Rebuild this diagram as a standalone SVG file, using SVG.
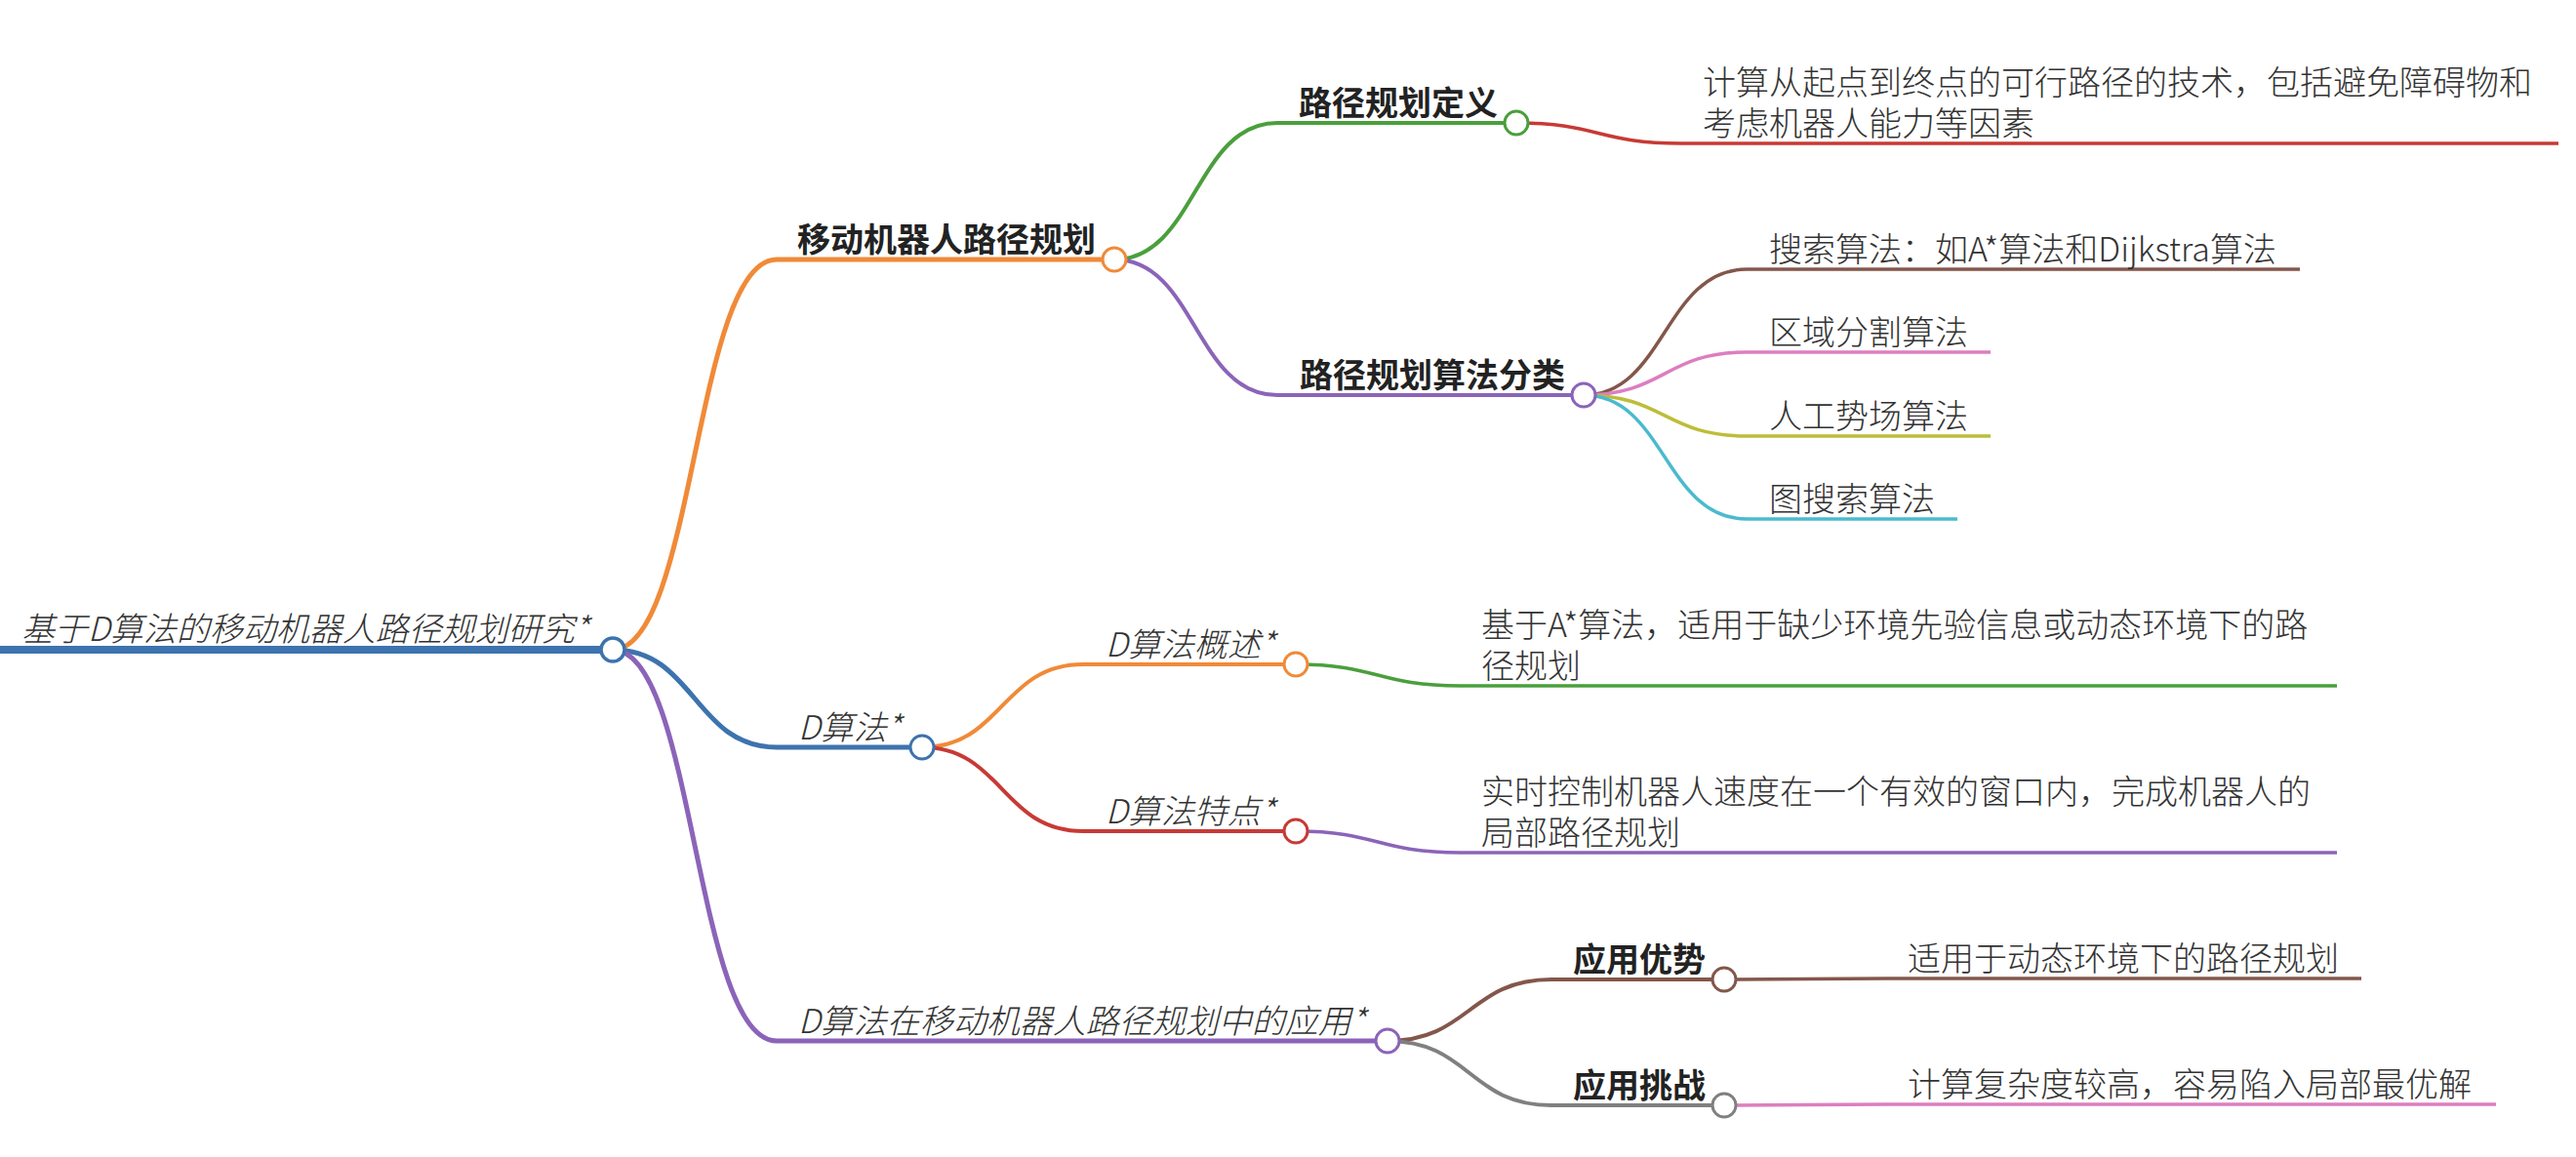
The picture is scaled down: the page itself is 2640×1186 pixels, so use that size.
<svg xmlns="http://www.w3.org/2000/svg" width="2640" height="1186" viewBox="0 0 2640 1186">
<style>
text{font-family:"Noto Sans CJK SC","Noto Sans",sans-serif;font-size:34px;fill:#333;font-weight:300}
.b{font-weight:700;fill:#222}
.i{font-style:italic}
.ln{fill:none;stroke-linecap:butt}
.c{fill:#fff}
.l1{stroke-width:5}
.l2{stroke-width:4}
.l3{stroke-width:3.5}
</style>
<rect width="2640" height="1186" fill="#fff"/>
<g id="connectors" class="ln">
<path class="l1" stroke="#f08a38" d="M628,666 C712,666 712,266 796,266"/>
<path class="l1" stroke="#3d73ae" d="M628,666 C712,666 712,766 796,766"/>
<path class="l1" stroke="#8b64b9" d="M628,666 C712,666 712,1067 796,1067"/>
<path class="l2" stroke="#4a9f3c" d="M1142,266 C1225,266 1225,126 1309,126"/>
<path class="l2" stroke="#8b64b9" d="M1142,266 C1225,266 1225,405 1309,405"/>
<path class="l3" stroke="#c73a35" d="M1554,126 C1638,126 1638,147 1723,147"/>
<path class="l3" stroke="#83574b" d="M1623,405 C1706,405 1706,276 1790,276"/>
<path class="l3" stroke="#dc7ec0" d="M1623,405 C1706,405 1706,361 1790,361"/>
<path class="l3" stroke="#bdbd3a" d="M1623,405 C1706,405 1706,447 1790,447"/>
<path class="l3" stroke="#4bbace" d="M1623,405 C1706,405 1706,532 1790,532"/>
<path class="l2" stroke="#f08a38" d="M945,766 C1027,766 1027,681 1110,681"/>
<path class="l2" stroke="#c73a35" d="M945,766 C1027,766 1027,852 1110,852"/>
<path class="l3" stroke="#4a9f3c" d="M1328,681 C1412,681 1412,703 1496,703"/>
<path class="l3" stroke="#8b64b9" d="M1328,852 C1412,852 1412,874 1496,874"/>
<path class="l2" stroke="#83574b" d="M1422,1067 C1506,1067 1506,1004 1590,1004"/>
<path class="l2" stroke="#808080" d="M1422,1067 C1506,1067 1506,1133 1590,1133"/>
<path class="l3" stroke="#83574b" d="M1767,1004 C1851,1004 1851,1003 1935,1003"/>
<path class="l3" stroke="#dc7ec0" d="M1767,1133 C1851,1133 1851,1132 1935,1132"/>
</g>
<g id="root">
<path class="ln" stroke="#3d73ae" stroke-width="8" d="M0,666 H628"/>
<circle class="c" cx="628" cy="666" r="12" stroke="#3d73ae" stroke-width="3.5"/>
<text class="i" x="22" y="657">基于D算法的移动机器人路径规划研究*</text>
</g>
<g id="n-a">
<path class="ln l1" stroke="#f08a38" d="M796,266 H1142"/>
<circle class="c" cx="1142" cy="266" r="12" stroke="#f08a38" stroke-width="3"/>
<text class="b" x="817" y="258">移动机器人路径规划</text>
</g>
<g id="n-a1">
<path class="ln l2" stroke="#4a9f3c" d="M1309,126 H1554"/>
<circle class="c" cx="1554" cy="126" r="12" stroke="#4a9f3c" stroke-width="3"/>
<text class="b" x="1331" y="118">路径规划定义</text>
</g>
<g id="n-a1-1">
<path class="ln l3" stroke="#c73a35" d="M1723,147 H2622"/>
<text x="1745" y="97">计算从起点到终点的可行路径的技术，包括避免障碍物和<tspan x="1745" dy="42">考虑机器人能力等因素</tspan></text>
</g>
<g id="n-a2">
<path class="ln l2" stroke="#8b64b9" d="M1309,405 H1623"/>
<circle class="c" cx="1623" cy="405" r="12" stroke="#8b64b9" stroke-width="3"/>
<text class="b" x="1332" y="397">路径规划算法分类</text>
</g>
<g id="n-a2-1">
<path class="ln l3" stroke="#83574b" d="M1790,276 H2357"/>
<text x="1813" y="268">搜索算法：如A*算法和Dijkstra算法</text>
</g>
<g id="n-a2-2">
<path class="ln l3" stroke="#dc7ec0" d="M1790,361 H2040"/>
<text x="1813" y="353">区域分割算法</text>
</g>
<g id="n-a2-3">
<path class="ln l3" stroke="#bdbd3a" d="M1790,447 H2040"/>
<text x="1813" y="439">人工势场算法</text>
</g>
<g id="n-a2-4">
<path class="ln l3" stroke="#4bbace" d="M1790,532 H2006"/>
<text x="1813" y="524">图搜索算法</text>
</g>
<g id="n-b">
<path class="ln l1" stroke="#3d73ae" d="M796,766 H945"/>
<circle class="c" cx="945" cy="766" r="12" stroke="#3d73ae" stroke-width="3"/>
<text class="i" x="818" y="758">D算法*</text>
</g>
<g id="n-b1">
<path class="ln l2" stroke="#f08a38" d="M1110,681 H1328"/>
<circle class="c" cx="1328" cy="681" r="12" stroke="#f08a38" stroke-width="3"/>
<text class="i" x="1133" y="673">D算法概述*</text>
</g>
<g id="n-b1-1">
<path class="ln l3" stroke="#4a9f3c" d="M1496,703 H2395"/>
<text x="1518" y="653">基于A*算法，适用于缺少环境先验信息或动态环境下的路<tspan x="1518" dy="42">径规划</tspan></text>
</g>
<g id="n-b2">
<path class="ln l2" stroke="#c73a35" d="M1110,852 H1328"/>
<circle class="c" cx="1328" cy="852" r="12" stroke="#c73a35" stroke-width="3"/>
<text class="i" x="1133" y="844">D算法特点*</text>
</g>
<g id="n-b2-1">
<path class="ln l3" stroke="#8b64b9" d="M1496,874 H2395"/>
<text x="1518" y="824">实时控制机器人速度在一个有效的窗口内，完成机器人的<tspan x="1518" dy="42">局部路径规划</tspan></text>
</g>
<g id="n-c">
<path class="ln l1" stroke="#8b64b9" d="M796,1067 H1422"/>
<circle class="c" cx="1422" cy="1067" r="12" stroke="#8b64b9" stroke-width="3"/>
<text class="i" x="818" y="1059">D算法在移动机器人路径规划中的应用*</text>
</g>
<g id="n-c1">
<path class="ln l2" stroke="#83574b" d="M1590,1004 H1767"/>
<circle class="c" cx="1767" cy="1004" r="12" stroke="#83574b" stroke-width="3"/>
<text class="b" x="1612" y="996">应用优势</text>
</g>
<g id="n-c1-1">
<path class="ln l3" stroke="#83574b" d="M1935,1003 H2420"/>
<text x="1955" y="995">适用于动态环境下的路径规划</text>
</g>
<g id="n-c2">
<path class="ln l2" stroke="#808080" d="M1590,1133 H1767"/>
<circle class="c" cx="1767" cy="1133" r="12" stroke="#808080" stroke-width="3"/>
<text class="b" x="1612" y="1125">应用挑战</text>
</g>
<g id="n-c2-1">
<path class="ln l3" stroke="#dc7ec0" d="M1935,1132 H2558"/>
<text x="1955" y="1124">计算复杂度较高，容易陷入局部最优解</text>
</g>
</svg>
